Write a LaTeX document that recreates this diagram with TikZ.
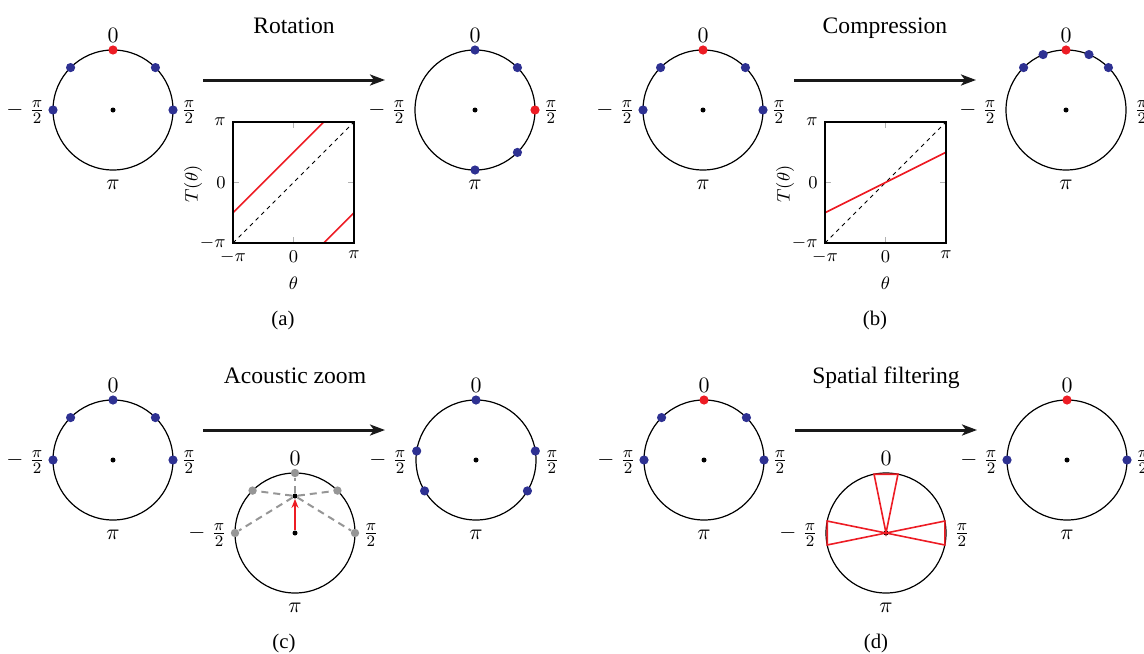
\documentclass[tikz,border=0pt]{standalone}
\usepackage{fontspec}
\setmainfont{Liberation Serif}
\usetikzlibrary{arrows.meta,calc}
\definecolor{dotred}{RGB}{237,28,36}
\definecolor{dotblue}{RGB}{46,49,146}
\definecolor{beamgray}{RGB}{150,150,150}

\begin{document}
\begin{tikzpicture}[x=0.5pt,y=-0.5pt]
    \tikzset{ring/.style={line width=0.6pt}}
    \tikzset{cdot/.style={circle,fill=black,inner sep=0pt,minimum size=2.5pt}}
    \tikzset{bdot/.style={circle,fill=dotblue,inner sep=0pt,minimum size=4.6pt}}
    \tikzset{rdot/.style={circle,fill=dotred,inner sep=0pt,minimum size=4.6pt}}
    \tikzset{gdot/.style={circle,fill=beamgray,inner sep=0pt,minimum size=4.2pt}}
    \tikzset{lbl/.style={inner sep=0pt,font=\fontsize{11}{13}\selectfont}}
    \tikzset{ticklbl/.style={inner sep=3.5pt,font=\fontsize{9.5}{11}\selectfont}}
    \tikzset{title/.style={anchor=base,font=\fontsize{11.8}{14}\selectfont}}
    \tikzset{caption/.style={font=\fontsize{10.4}{12}\selectfont}}
    \tikzset{bigarrow/.style={line width=1.5pt,black!90,-{Stealth[length=7.5pt,width=5.5pt,inset=2pt]}}}
    \tikzset{plotframe/.style={line width=0.7pt}}
    \tikzset{plottick/.style={black!30,line width=0.6pt}}
    \tikzset{ident/.style={line width=0.45pt,dash pattern=on 2pt off 2pt}}
    \tikzset{curve/.style={dotred,line width=0.8pt}}
    \tikzset{zoomline/.style={beamgray,line width=1pt,dash pattern=on 3.5pt off 2.5pt}}
    \tikzset{zoomarrow/.style={dotred,line width=1pt,-{Stealth[length=4.5pt,width=3.5pt]}}}
    \tikzset{beam/.style={dotred,line width=0.8pt,line join=miter}}
    \tikzset{pics/dircircle/.style={code={
      \draw[ring] (0,0) circle[radius=60];
      \node[cdot] (-c) at (0,0) {};
      \node[lbl] (-n) at (0,-75) {$0$};
      \node[lbl,anchor=east] (-w) at (-68,2) {$-\;\frac{\pi}{2}$};
      \node[lbl,anchor=west] (-e) at (68,2) {$\frac{\pi}{2}$};
      \node[lbl] (-s) at (0,75) {$\pi$};
    }}}
    \useasboundingbox (0,0) rectangle (1144,653);

    % (a) rotation
    \pic (aL) at (113,110) {dircircle};
    \foreach \ang/\sty [count=\i] in {0/rdot,-45/bdot,45/bdot,-90/bdot,90/bdot}
      \node[\sty] (aL-d\i) at ([shift={(\ang-90:60)}]aL-c) {};
    \pic (aR) at (475,110) {dircircle};
    \foreach \ang/\sty [count=\i] in {0/bdot,45/bdot,90/rdot,135/bdot,180/bdot}
      \node[\sty] (aR-d\i) at ([shift={(\ang-90:60)}]aR-c) {};
    \node[title] (a-title) at (294,33.5) {Rotation};
    \coordinate (a-from) at (203,80);
    \coordinate (a-to) at (385,80);
    \draw[bigarrow] (a-from) -- (a-to);
    \begin{scope}[shift={(233,243)},x=15.125pt,y=15.125pt]
      \draw[plottick] (2,0) -- (2,0.2) (2,4) -- (2,3.8) (0,2) -- (0.2,2) (4,2) -- (3.8,2);
      \draw[ident] (0,0) -- (4,4);
      \draw[curve] (0,1) -- (3,4) (3,0) -- (4,1);
      \draw[plotframe] (0,0) rectangle (4,4);
      \node[ticklbl,anchor=east] (a-y1) at (0,0) {$-\pi$};
      \node[ticklbl,anchor=east] (a-y2) at (0,2) {$0$};
      \node[ticklbl,anchor=east] (a-y3) at (0,4) {$\pi$};
      \node[ticklbl,anchor=north] (a-x1) at (0,0) {$-\pi$};
      \node[ticklbl,anchor=north] (a-x2) at (2,0) {$0$};
      \node[ticklbl,anchor=north] (a-x3) at (4,0) {$\pi$};
      \node[ticklbl] (a-xl) at (2,-1.32) {$\theta$};
      \node[ticklbl,rotate=90] (a-yl) at (-1.32,1.95) {$T(\theta)$};
    \end{scope}
    \node[caption] (a-cap) at (283,320) {(a)};

    % (b) compression
    \pic (bL) at (703,110) {dircircle};
    \foreach \ang/\sty [count=\i] in {0/rdot,-45/bdot,45/bdot,-90/bdot,90/bdot}
      \node[\sty] (bL-d\i) at ([shift={(\ang-90:60)}]bL-c) {};
    \pic (bR) at (1066,110) {dircircle};
    \foreach \ang/\sty [count=\i] in {0/rdot,-22.5/bdot,22.5/bdot,-45/bdot,45/bdot}
      \node[\sty] (bR-d\i) at ([shift={(\ang-90:60)}]bR-c) {};
    \node[title] (b-title) at (885,33.5) {Compression};
    \coordinate (b-from) at (794,80);
    \coordinate (b-to) at (976,80);
    \draw[bigarrow] (b-from) -- (b-to);
    \begin{scope}[shift={(825,243)},x=15.125pt,y=15.125pt]
      \draw[plottick] (2,0) -- (2,0.2) (2,4) -- (2,3.8) (0,2) -- (0.2,2) (4,2) -- (3.8,2);
      \draw[ident] (0,0) -- (4,4);
      \draw[curve] (0,1) -- (4,3);
      \draw[plotframe] (0,0) rectangle (4,4);
      \node[ticklbl,anchor=east] (b-y1) at (0,0) {$-\pi$};
      \node[ticklbl,anchor=east] (b-y2) at (0,2) {$0$};
      \node[ticklbl,anchor=east] (b-y3) at (0,4) {$\pi$};
      \node[ticklbl,anchor=north] (b-x1) at (0,0) {$-\pi$};
      \node[ticklbl,anchor=north] (b-x2) at (2,0) {$0$};
      \node[ticklbl,anchor=north] (b-x3) at (4,0) {$\pi$};
      \node[ticklbl] (b-xl) at (2,-1.32) {$\theta$};
      \node[ticklbl,rotate=90] (b-yl) at (-1.32,1.95) {$T(\theta)$};
    \end{scope}
    \node[caption] (b-cap) at (875,320) {(b)};

    % (c) acoustic zoom
    \pic (cL) at (113,460) {dircircle};
    \foreach \ang/\sty [count=\i] in {0/bdot,-45/bdot,45/bdot,-90/bdot,90/bdot}
      \node[\sty] (cL-d\i) at ([shift={(\ang-90:60)}]cL-c) {};
    \pic (cR) at (476,460) {dircircle};
    \foreach \ang/\sty [count=\i] in {0/bdot,-81.4/bdot,81.4/bdot,-121/bdot,121/bdot}
      \node[\sty] (cR-d\i) at ([shift={(\ang-90:60)}]cR-c) {};
    \node[title] (c-title) at (295,383) {Acoustic zoom};
    \coordinate (c-from) at (203,430);
    \coordinate (c-to) at (385,430);
    \draw[bigarrow] (c-from) -- (c-to);
    \pic (cM) at (295,533) {dircircle};
    \node[cdot] (cZ) at ([shift={(0,-37)}]cM-c) {};
    \foreach \ang [count=\i] in {0,-45,45,-90,90} {
      \node[gdot] (cM-g\i) at ([shift={(\ang-90:60)}]cM-c) {};
      \draw[zoomline] (cZ) -- (cM-g\i);
    }
    \draw[zoomarrow] (cM-c) -- (cZ);
    \node[caption] (c-cap) at (284,643) {(c)};

    % (d) spatial filtering
    \pic (dL) at (704,460) {dircircle};
    \foreach \ang/\sty [count=\i] in {0/rdot,-45/bdot,45/bdot,-90/bdot,90/bdot}
      \node[\sty] (dL-d\i) at ([shift={(\ang-90:60)}]dL-c) {};
    \pic (dR) at (1067,460) {dircircle};
    \foreach \ang/\sty [count=\i] in {0/rdot,-90/bdot,90/bdot}
      \node[\sty] (dR-d\i) at ([shift={(\ang-90:60)}]dR-c) {};
    \node[title] (d-title) at (886,383) {Spatial filtering};
    \coordinate (d-from) at (795,430);
    \coordinate (d-to) at (977,430);
    \draw[bigarrow] (d-from) -- (d-to);
    \pic (dM) at (886,533) {dircircle};
    \foreach \ang in {-90,0,90}
      \draw[beam] (dM-c.center) -- ([shift={(\ang-101.5:60)}]dM-c.center)
        -- ([shift={(\ang-78.5:60)}]dM-c.center) -- cycle;
    \node[caption] (d-cap) at (876,643) {(d)};
\end{tikzpicture}
\end{document}
